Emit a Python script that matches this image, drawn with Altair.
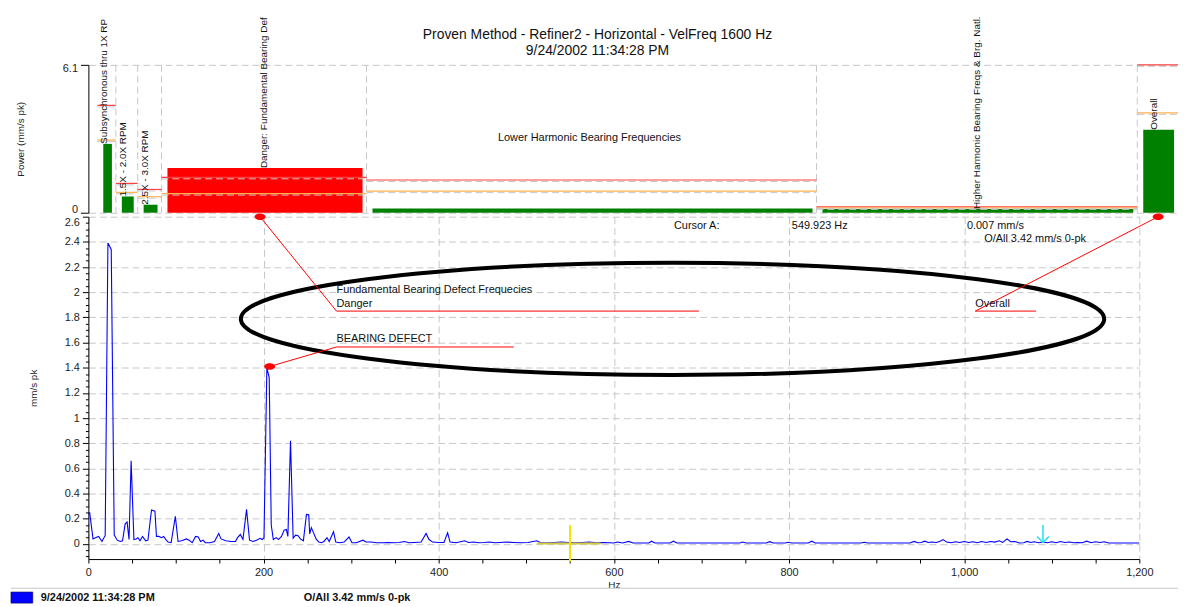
import altair as alt
import pandas as pd

# ---------------- spectrum (Hz, mm/s pk) ----------------
freq_0_100 = [0, 1.5, 5.3, 8, 11.7, 15.5, 19.2, 22.3, 26.1, 29.5, 33, 36.5, 39, 42, 44.2, 46.4,
              48.8, 52, 54.5, 56.5, 59, 61.8, 65.5, 68, 72.1, 76, 77.7, 80.5, 83.5, 86, 88.5,
              91, 94.5, 99.3]
amp_0_100 = [0.24, 0.246, 0.04, 0.05, 0.06, 0.02, 0.068, 2.39, 2.34, 0.07, 0.03, 0.02, 0.025,
             0.16, 0.175, 0.035, 0.66, 0.035, 0.04, 0.05, 0.025, 0.06, 0.025, 0.03, 0.27, 0.26,
             0.06, 0.06, 0.05, 0.06, 0.035, 0.015, 0.01, 0.22]

freq_100_300 = [102.4, 106.5, 112, 115, 118.5, 122.4, 125.5, 128, 131, 133.5, 139, 144, 148.8,
                151.5, 157, 163, 168, 170.3, 173.5, 176.5, 180.6, 184, 188, 192, 196, 198.5,
                200.5, 203.8, 206.5, 208.8, 211.2, 214.5, 217, 220.5, 223.5, 226, 227.8, 230.8,
                233.8, 236.5, 239.5, 242, 245.5, 249, 251.6, 252.7, 254.6, 257, 260, 263, 266,
                269, 272.5, 275, 279.9, 282.5, 287, 292, 297.6]
amp_100_300 = [0.02, 0.025, 0.04, 0.03, 0.01, 0.06, 0.055, 0.02, 0.03, 0.01, 0.01, 0.02, 0.083,
               0.04, 0.025, 0.02, 0.02, 0.05, 0.075, 0.035, 0.275, 0.03, 0.02, 0.03, 0.045, 0.035,
               0.05, 1.40, 1.32, 0.15, 0.035, 0.05, 0.035, 0.06, 0.11, 0.115, 0.06, 0.82, 0.045,
               0.07, 0.065, 0.04, 0.025, 0.235, 0.232, 0.08, 0.13, 0.09, 0.04, 0.015, 0.01, 0.02,
               0.05, 0.02, 0.097, 0.015, 0.01, 0.015, 0.055]

freq_300_600 = [301, 306, 313.5, 317, 323, 329, 336, 342, 348, 355, 361, 366, 372, 380, 385.6,
                389, 393, 400, 406, 410.2, 413, 420, 429.8, 434, 440, 446, 452, 458, 464, 470,
                478, 486, 494, 502, 512, 516, 524, 532, 540, 548, 556, 564, 572, 580, 588, 595]
amp_300_600 = [0.01, 0.01, 0.03, 0.015, 0.015, 0.01, 0.01, 0.012, 0.01, 0.012, 0.02, 0.01, 0.012,
               0.015, 0.083, 0.035, 0.015, 0.012, 0.012, 0.089, 0.015, 0.01, 0.025, 0.012, 0.015,
               0.01, 0.012, 0.015, 0.01, 0.012, 0.015, 0.012, 0.01, 0.012, 0.025, 0.012, 0.01,
               0.012, 0.015, 0.012, 0.01, 0.012, 0.015, 0.01, 0.012, 0.01]

freq_600_1200 = [600, 604, 610, 617, 622, 640, 643, 647, 664, 668, 672, 744, 747, 751, 774, 778,
                 782, 796, 799, 803, 822, 826, 830, 882, 886, 890, 938, 943, 947, 951, 955, 959,
                 963, 968, 972, 976, 980, 985, 990, 995, 1000, 1005, 1010, 1015, 1020, 1025, 1030,
                 1035, 1040, 1044, 1049, 1053, 1058, 1063, 1068, 1072, 1076, 1080, 1085, 1090,
                 1095, 1100, 1105, 1110, 1115, 1120, 1125, 1130, 1135, 1140, 1145, 1150, 1155,
                 1160, 1165, 1175, 1185, 1200]
amp_600_1200 = [0.008, 0.015, 0.008, 0.02, 0.008, 0.008, 0.022, 0.008, 0.008, 0.022, 0.008, 0.008,
                0.015, 0.008, 0.008, 0.018, 0.008, 0.008, 0.014, 0.008, 0.008, 0.022, 0.008, 0.008,
                0.014, 0.008, 0.008, 0.02, 0.01, 0.012, 0.022, 0.012, 0.015, 0.012, 0.02, 0.035,
                0.015, 0.01, 0.018, 0.012, 0.02, 0.012, 0.018, 0.01, 0.02, 0.012, 0.02, 0.015,
                0.025, 0.012, 0.04, 0.018, 0.02, 0.008, 0.01, 0.02, 0.012, 0.018, 0.01, 0.015,
                0.01, 0.018, 0.01, 0.02, 0.012, 0.015, 0.01, 0.012, 0.01, 0.022, 0.01, 0.018,
                0.012, 0.018, 0.008, 0.008, 0.008, 0.008]

# ---------------- band power panel ----------------
band_names = ["Subsynchronous thru 1X RPM", "1.5X - 2.0X RPM", "2.5X - 3.0X RPM",
              "Danger: Fundamental Bearing Defect Frequencies",
              "Lower Harmonic Bearing Frequencies",
              "Higher Harmonic Bearing Freqs & Brg. Natl.", "Overall"]
band_lo_hz = [10.2, 31.4, 56.3, 83.5, 317.6, 831.4, 1197.7]
band_hi_hz = [31.4, 56.3, 83.5, 317.6, 831.4, 1197.7, 1244.2]
band_level = [2.84, 0.67, 0.33, 1.84, 0.17, 0.15, 3.42]
band_alert = [3.0, 0.84, 0.66, 0.79, 0.89, 0.20, 4.12]
band_danger = [4.43, 1.21, 0.96, 1.46, 1.35, 0.24, 6.1]
band_status = ["ok", "ok", "ok", "danger", "ok", "ok", "ok"]

title_lines = ["Proven Method - Refiner2 - Horizontal - VelFreq 1600 Hz", "9/24/2002 11:34:28 PM"]
cursor_texts = ["Cursor A:", "549.923 Hz", "0.007 mm/s", "O/All 3.42 mm/s 0-pk"]
legend_texts = ["9/24/2002 11:34:28 PM", "O/All 3.42 mm/s 0-pk"]
cursor_hz = 549.923

# axis tick values (labels every 0.2 mm/s, minor ticks every 0.05; every 50 Hz, labels every 200)
y_ticks = [round(0.05 * i, 2) for i in range(-2, 53)]
x_ticks = list(range(0, 1201, 50))

# ---------------- geometry / style ----------------
FONT = "Liberation Sans"
TOP_W, TOP_H = 1098, 149
BOT_W, BOT_H = 1059, 345
PX_PER_HZ = BOT_W / 1200
TOP_XMAX = TOP_W / PX_PER_HZ
GRID = "#c8c8c8"
DASH = [7, 4]
RED = "#ff0000"

spec = pd.DataFrame({"hz": freq_0_100 + freq_100_300 + freq_300_600 + freq_600_1200,
                     "amp": amp_0_100 + amp_100_300 + amp_300_600 + amp_600_1200})

bands = pd.DataFrame({"name": band_names, "lo": band_lo_hz, "hi": band_hi_hz,
                      "level": band_level, "alert": band_alert, "danger": band_danger,
                      "status": band_status})


def label_pos(lo, hi):
    w = hi - lo
    if w > 100:
        return (lo + hi) / 2
    return lo + (0.4 * w if w > 40 else 8.0)


bands["label_hz"] = [label_pos(lo, hi) for lo, hi in zip(band_lo_hz, band_hi_hz)]
bands["lim"] = TOP_H * (1 - bands["level"] / 6.1) + 51
vert_labels = bands[bands["name"] != band_names[4]]
edges = pd.DataFrame({"edge": band_hi_hz[:-1]})

X_TOP = alt.Scale(domain=[0, TOP_XMAX], nice=False, zero=False)
Y_TOP = alt.Scale(domain=[0, 6.1], nice=False, zero=False)

top_axis_y = alt.Axis(values=[0, 6.1], tickCount=50, labelExpr="format(datum.value, '~g')",
                      title="Power (mm/s pk)", titleX=-68,
                      titleBaseline="middle", titleAngle=270, titleFontSize=10,
                      labelFontSize=11, labelFlush=True, labelFlushOffset=2, tickSize=8,
                      tickColor="black", domainColor="black", labelPadding=3, grid=True,
                      gridColor=GRID, gridDash=DASH, labelOverlap=False)

# secondary layers leave the y axis implicit so the explicit one is kept
xt = lambda f: alt.X(f, scale=X_TOP, axis=None)
yt = lambda f: alt.Y(f, scale=Y_TOP)

t_grid = alt.Chart(edges).mark_rule(color=GRID, strokeDash=DASH).encode(x=xt("edge:Q"))
t_bar = alt.Chart(bands).mark_rect(xOffset=6, x2Offset=-4).encode(
    x=xt("lo:Q"), x2="hi:Q",
    y=alt.Y("level:Q", scale=Y_TOP, axis=top_axis_y), y2=alt.datum(0),
    color=alt.Color("status:N", scale=alt.Scale(domain=["ok", "danger"],
                                                range=["#008000", "#ff0000"]), legend=None))
t_red = alt.Chart(bands).mark_rule(color="#ff4040", strokeWidth=1.2).encode(
    x=xt("lo:Q"), x2="hi:Q", y=yt("danger:Q"))
t_org = alt.Chart(bands).mark_rule(color="#ffb050", strokeWidth=1.2).encode(
    x=xt("lo:Q"), x2="hi:Q", y=yt("alert:Q"))
t_dash_r = alt.Chart(bands).mark_rule(color="#c8c8c8", strokeDash=DASH, yOffset=1.5).encode(
    x=xt("lo:Q"), x2="hi:Q", y=yt("danger:Q"))
t_dash_o = alt.Chart(bands).mark_rule(color="#c8c8c8", strokeDash=DASH, yOffset=1.5).encode(
    x=xt("lo:Q"), x2="hi:Q", y=yt("alert:Q"))
t_vlab = alt.Chart(vert_labels).mark_text(
    angle=270, align="left", baseline="middle", fontSize=10, font=FONT, color="#111",
    limit={"expr": "datum.lim"}, ellipsis="\u200b").encode(
    x=xt("label_hz:Q"), y=yt("level:Q"), text="name:N")
t_hlab = alt.Chart(pd.DataFrame({"t": [band_names[4]], "hz": [572.2], "v": [3.07]})).mark_text(
    fontSize=11, font=FONT, color="#111").encode(x=xt("hz:Q"), y=yt("v:Q"), text="t:N")
t_title = alt.Chart(pd.DataFrame({"t": title_lines, "hz": [581.3, 581.3], "v": [7.33, 6.67]})
                    ).mark_text(fontSize=14, font=FONT, color="#111").encode(
    x=xt("hz:Q"), y=yt("v:Q"), text="t:N")

top = alt.layer(t_bar, t_grid, t_red, t_org, t_dash_r, t_dash_o, t_vlab, t_hlab, t_title
                ).properties(width=TOP_W, height=TOP_H)

# ---------------- spectrum panel ----------------
X_BOT = alt.Scale(domain=[0, 1200], nice=False, zero=False)
Y_BOT = alt.Scale(domain=[-0.12, 2.6], nice=False, zero=False)
MAJOR_Y = "datum.value >= 0 && abs(datum.value * 5 - round(datum.value * 5)) < 0.001"
MAJOR_X = "datum.value % 200 === 0"

bot_axis_y = alt.Axis(values=y_ticks, tickCount=500,
                      labelExpr=f"({MAJOR_Y}) ? format(datum.value, '~g') : ''",
                      labelOverlap=False, labelFlush=True,
                      tickSize={"condition": {"test": MAJOR_Y, "value": 6}, "value": 3},
                      tickColor="black", domainColor="black",
                      grid=True, gridColor=GRID, gridDash=DASH,
                      gridOpacity={"condition": {"test": MAJOR_Y, "value": 1}, "value": 0},
                      title="mm/s pk", titleX=-55, titleBaseline="middle", titleFontSize=10,
                      labelFontSize=11, labelPadding=3)
bot_axis_x = alt.Axis(values=x_ticks, tickCount=500,
                      labelExpr=f"{MAJOR_X} ? format(datum.value, ',') : ''",
                      labelOverlap=False, tickSize=4, tickColor="black",
                      domainColor="black", grid=True, gridColor=GRID, gridDash=DASH,
                      gridOpacity={"condition": {"test": MAJOR_X, "value": 1}, "value": 0},
                      title="Hz", titleFontSize=10, titleY=26, titleBaseline="middle",
                      labelFontSize=11, labelPadding=4, labelFlush=False)

xb = lambda f: alt.X(f, scale=X_BOT)
yb = lambda f: alt.Y(f, scale=Y_BOT)

b_line = alt.Chart(spec).mark_line(color="#0000ff", strokeWidth=1.1).encode(
    x=alt.X("hz:Q", scale=X_BOT, axis=bot_axis_x),
    y=alt.Y("amp:Q", scale=Y_BOT, axis=bot_axis_y))

b_yel_base = alt.Chart(pd.DataFrame({"a": [512], "b": [585], "v": [0.003]})).mark_rule(
    color="#d4cc3c", strokeWidth=2).encode(x=xb("a:Q"), x2="b:Q", y=yb("v:Q"))
b_cursor = alt.Chart(pd.DataFrame({"hz": [cursor_hz], "v1": [0.15], "v2": [-0.14]})).mark_rule(
    color="#f2e600", strokeWidth=2).encode(x=xb("hz:Q"), y=yb("v1:Q"), y2="v2:Q")
b_cyan = alt.Chart(pd.DataFrame({"hz": [1090], "v1": [0.15], "v2": [0.012]})).mark_rule(
    color="#22e0f0", strokeWidth=1.5).encode(x=xb("hz:Q"), y=yb("v1:Q"), y2="v2:Q")
b_cyan_head = alt.Chart(pd.DataFrame({"hz": [1090], "v": [0.012]})).mark_point(
    shape="M-1,-1L0,0L1,-1", size=144, filled=False, color="#22e0f0", strokeWidth=1.5,
    opacity=1).encode(x=xb("hz:Q"), y=yb("v:Q"))

leaders = pd.DataFrame({
    "x": [196.0, 283.3, 207.0, 283.3, 1221.5, 1012.7],
    "y": [2.6, 1.85, 1.41, 1.565, 2.6, 1.85],
    "x2": [283.3, 697.1, 283.3, 485.7, 1012.7, 1082.0],
    "y2": [1.85, 1.85, 1.565, 1.565, 1.85, 1.85]})
b_lead = alt.Chart(leaders).mark_rule(color=RED, strokeWidth=1).encode(
    x=xb("x:Q"), y=yb("y:Q"), x2="x2:Q", y2="y2:Q")
b_dots = alt.Chart(pd.DataFrame({"x": [196.0, 207.0, 1221.5], "y": [2.6, 1.41, 2.6]})).mark_point(
    shape="M-1,0A1,0.6,0,1,1,1,0A1,0.6,0,1,1,-1,0Z", size=121, filled=True, color=RED,
    opacity=1).encode(x=xb("x:Q"), y=yb("y:Q"))
b_ellipse = alt.Chart(pd.DataFrame({"x": [667.0], "y": [1.788]})).mark_point(
    shape="M-1,0A1,0.13,0,1,1,1,0A1,0.13,0,1,1,-1,0Z", size=756900, filled=False,
    stroke="black", strokeWidth=4, opacity=1).encode(x=xb("x:Q"), y=yb("y:Q"))

notes = pd.DataFrame({
    "t": ["Fundamental Bearing Defect Frequecies", "Danger", "BEARING DEFECT", "Overall"],
    "x": [283.3, 283.3, 283.3, 1012.7], "y": [2.02, 1.905, 1.625, 1.905]})
b_notes = alt.Chart(notes).mark_text(align="left", baseline="middle", fontSize=11, font=FONT,
                                     color="#111").encode(x=xb("x:Q"), y=yb("y:Q"), text="t:N")

cur = pd.DataFrame({"t": cursor_texts, "x": [694.6, 835.1, 1035.7, 1081.0],
                    "y": [2.529, 2.529, 2.529, 2.419]})
b_cur = alt.Chart(cur).mark_text(align="center", baseline="middle", fontSize=11, font=FONT,
                                 color="#111").encode(x=xb("x:Q"), y=yb("y:Q"), text="t:N")

b_sep = alt.Chart(pd.DataFrame({"a": [-88.4], "b": [1244.0], "v": [-0.352]})).mark_rule(
    color="#c8c8c8", strokeWidth=1).encode(x=xb("a:Q"), x2="b:Q", y=yb("v:Q"))
b_leg_box = alt.Chart(pd.DataFrame({"a": [-88.4], "b": [-63.5], "v1": [-0.382], "v2": [-0.47]})
                      ).mark_rect(color="#0000ff", stroke="#000050", strokeWidth=0.6).encode(
    x=xb("a:Q"), x2="b:Q", y=yb("v1:Q"), y2="v2:Q")
b_leg_txt = alt.Chart(pd.DataFrame({"t": legend_texts, "x": [-54.4, 245.9], "y": [-0.427, -0.427]})
                      ).mark_text(align="left", baseline="middle", fontSize=11, font=FONT,
                                  fontWeight="bold", color="#111").encode(
    x=xb("x:Q"), y=yb("y:Q"), text="t:N")

bottom = alt.layer(b_line, b_yel_base, b_cursor, b_cyan, b_cyan_head, b_ellipse, b_lead,
                   b_dots, b_notes, b_cur, b_sep, b_leg_box, b_leg_txt
                   ).properties(width=BOT_W, height=BOT_H)

chart = alt.vconcat(top, bottom, spacing=4).properties(
    bounds="flush", padding={"left": 2, "top": 5, "right": 0, "bottom": 0}
).configure(font=FONT, background="white").configure_view(stroke=None).configure_axis(
    labelFont=FONT, titleFont=FONT, labelColor="#222", titleColor="#222",
    titleFontWeight="normal", tickColor="black", domainColor="black")

chart.save("out.html", embed_options={"renderer": "svg", "actions": False})
